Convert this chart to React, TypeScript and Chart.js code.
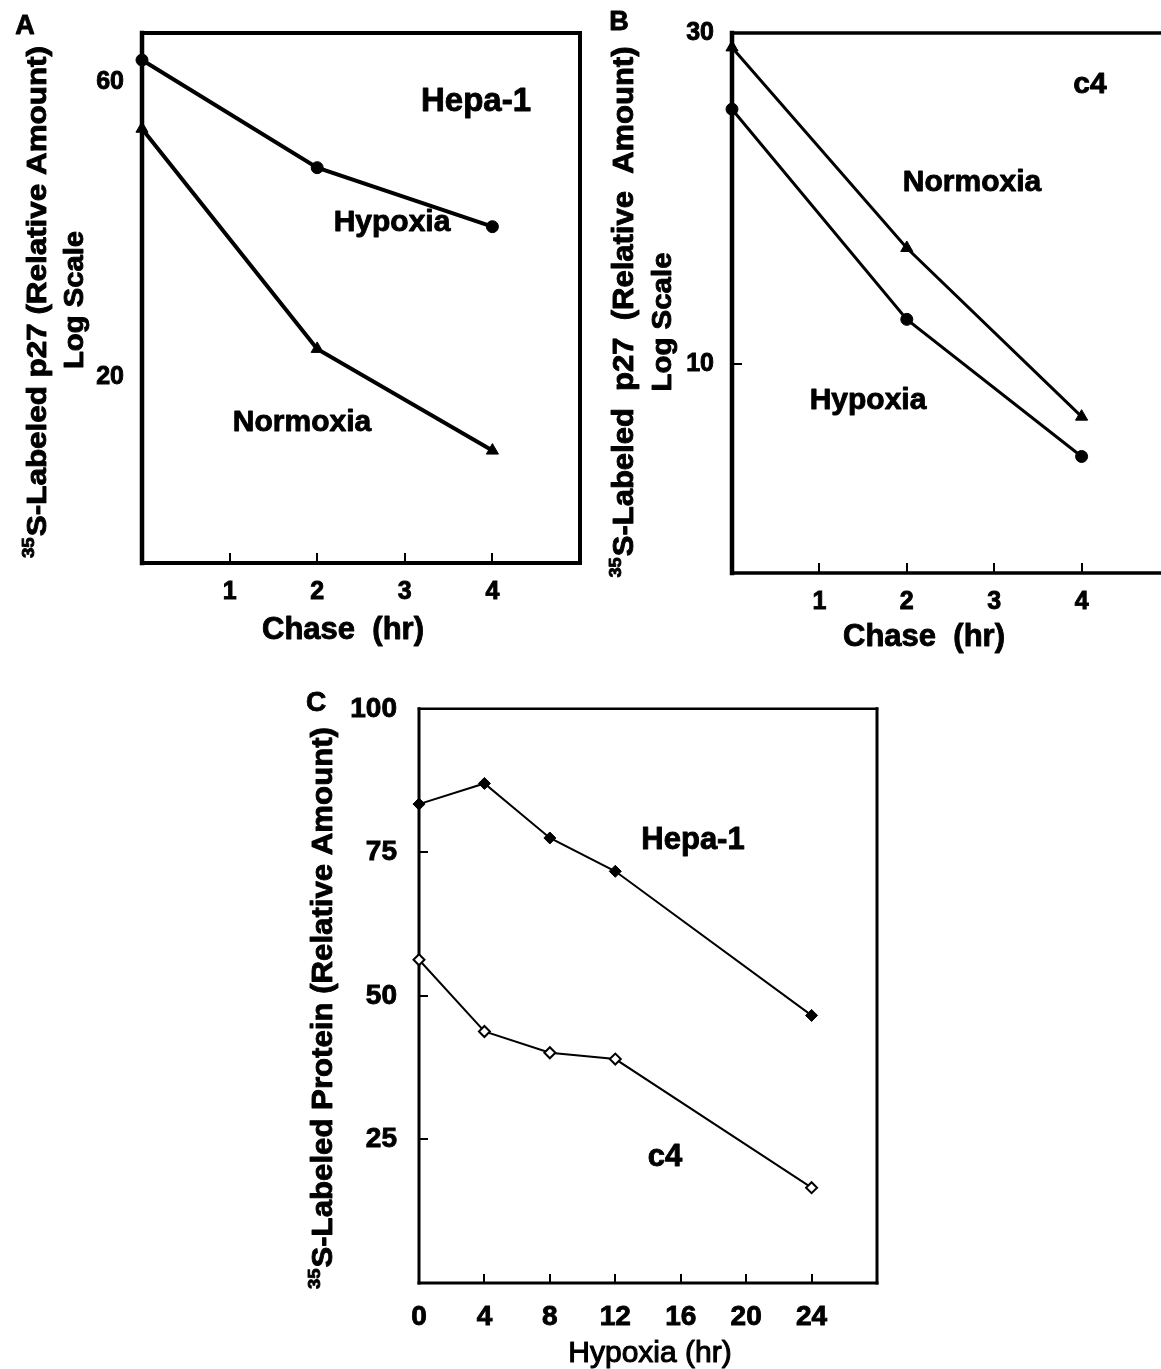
import React, { useEffect, useRef } from 'react';
import { Chart, registerables } from 'chart.js';

Chart.register(...registerables);

const FONT = '"Liberation Sans", Arial, Helvetica, sans-serif';

// ---------- Panel A: Hepa-1, log scale ----------
const chaseHours = [0, 2, 4];
const hepaHypoxia = [65.1, 43.6, 35.0];
const hepaNormoxia = [50.4, 22.2, 15.2];
const aYTicks = [20, 60];
const chaseTicks = [1, 2, 3, 4];

// ---------- Panel B: c4, log scale ----------
const c4Hypoxia = [23.3, 11.6, 7.36];
const c4Normoxia = [28.6, 14.7, 8.4];
const bYTicks = [10, 30];
const bInnerYTicks = [10];

// ---------- Panel C: total protein ----------
const hypoxiaHours = [0, 4, 8, 12, 24];
const hepaProtein = [83.4, 87.0, 77.5, 71.7, 46.6];
const c4Protein = [56.3, 43.8, 40.1, 39.0, 16.6];
const cXTicks = [0, 4, 8, 12, 16, 20, 24];
const cInnerXTicks = [4, 8, 12, 16, 20, 24];
const cYTicks = [25, 50, 75, 100];
const cInnerYTicks = [25, 50, 75];

type TextItem = {
  text: string;
  x: number;
  y: number;
  size: number;
  weight?: string;
  sup?: string;
  rotate?: boolean;
  len?: number;
  stroke?: number;
};

type PanelSpec = {
  id: string;
  cx: number; cy: number; cw: number; ch: number;
  pl: number; pt: number; pr: number; pb: number;
  xMin: number; xMax: number; xTicks: number[]; innerX: number[];
  yType: 'linear' | 'logarithmic';
  yMin: number; yMax: number; yTicks: number[]; innerY: number[];
  tickFont: number; xPad: number; yPad: number;
  border: [number, number, number, number];
  tickLen: number;
  datasets: any[];
  texts: TextItem[];
};

function drawText(ctx: CanvasRenderingContext2D, it: TextItem, ox: number, oy: number) {
  const w = it.weight || 'bold';
  const size = it.size;
  const mainFont = `${w} ${size}px ${FONT}`;
  const supSize = Math.round(size * 0.6);
  const supFont = `${w} ${supSize}px ${FONT}`;
  const sw = it.stroke === undefined ? 0.9 : it.stroke;
  ctx.save();
  ctx.fillStyle = '#000';
  ctx.strokeStyle = '#000';
  ctx.lineJoin = 'round';
  ctx.translate(it.x - ox, it.y - oy);
  if (it.rotate) ctx.rotate(-Math.PI / 2);
  ctx.font = supFont;
  const ws = it.sup ? ctx.measureText(it.sup).width + 1 : 0;
  ctx.font = mainFont;
  const wm = ctx.measureText(it.text).width;
  const total = ws + wm;
  const sx = it.len ? it.len / total : 1;
  ctx.scale(sx, 1);
  ctx.lineWidth = sw;
  ctx.textAlign = 'left';
  ctx.textBaseline = 'alphabetic';
  const base = size * 0.36;
  if (it.sup) {
    ctx.font = supFont;
    ctx.fillText(it.sup, -total / 2, base - size * 0.42);
    if (sw > 0) ctx.strokeText(it.sup, -total / 2, base - size * 0.42);
  }
  ctx.font = mainFont;
  ctx.fillText(it.text, -total / 2 + ws, base);
  if (sw > 0) ctx.strokeText(it.text, -total / 2 + ws, base);
  ctx.restore();
}

function makeDecor(spec: PanelSpec) {
  return {
    id: 'decor_' + spec.id,
    beforeDatasetsDraw(chart: any) {
      const { ctx, chartArea: a } = chart;
      const xs = chart.scales.x;
      const ys = chart.scales.y;
      ctx.save();
      ctx.strokeStyle = '#000';
      ctx.lineCap = 'butt';
      ctx.lineWidth = 2;
      for (const v of spec.innerX) {
        const px = Math.round(xs.getPixelForValue(v));
        ctx.beginPath();
        ctx.moveTo(px, a.bottom);
        ctx.lineTo(px, a.bottom - spec.tickLen);
        ctx.stroke();
      }
      for (const v of spec.innerY) {
        const py = Math.round(ys.getPixelForValue(v));
        ctx.beginPath();
        ctx.moveTo(a.left, py);
        ctx.lineTo(a.left + spec.tickLen, py);
        ctx.stroke();
      }
      const [bt, br, bb, bl] = spec.border;
      ctx.lineCap = 'square';
      const side = (lw: number, x1: number, y1: number, x2: number, y2: number) => {
        if (!lw) return;
        ctx.lineWidth = lw;
        ctx.beginPath();
        ctx.moveTo(x1, y1);
        ctx.lineTo(x2, y2);
        ctx.stroke();
      };
      side(bt, a.left, a.top, a.right, a.top);
      side(br, a.right, a.top, a.right, a.bottom);
      side(bb, a.left, a.bottom, a.right, a.bottom);
      side(bl, a.left, a.top, a.left, a.bottom);
      ctx.restore();
    },
    afterDraw(chart: any) {
      const ctx = chart.ctx;
      for (const t of spec.texts) drawText(ctx, t, spec.cx, spec.cy);
    },
  };
}

function buildConfig(spec: PanelSpec): any {
  const tickFont = { family: FONT, size: spec.tickFont, weight: 'bold' as const };
  return {
    type: 'line',
    data: { datasets: spec.datasets },
    options: {
      animation: false,
      responsive: false,
      events: [],
      layout: {
        padding: {
          left: 0,
          top: spec.pt - spec.cy,
          right: spec.cx + spec.cw - spec.pr,
          bottom: 0,
        },
      },
      plugins: { legend: { display: false }, tooltip: { enabled: false } },
      scales: {
        x: {
          type: 'linear',
          min: spec.xMin,
          max: spec.xMax,
          afterBuildTicks: (s: any) => {
            s.ticks = spec.xTicks.map((v) => ({ value: v }));
          },
          afterFit: (s: any) => {
            s.height = spec.cy + spec.ch - spec.pb;
          },
          ticks: {
            font: tickFont,
            color: '#000',
            textStrokeColor: '#000',
            textStrokeWidth: 0.9,
            padding: spec.xPad,
            autoSkip: false,
            maxRotation: 0,
            callback: (v: any) => String(v),
          },
          grid: { display: false, drawTicks: false },
          border: { display: false },
        },
        y: {
          type: spec.yType,
          min: spec.yMin,
          max: spec.yMax,
          afterBuildTicks: (s: any) => {
            s.ticks = spec.yTicks.map((v) => ({ value: v }));
          },
          afterFit: (s: any) => {
            s.width = spec.pl - spec.cx;
          },
          ticks: {
            font: tickFont,
            color: '#000',
            textStrokeColor: '#000',
            textStrokeWidth: 0.9,
            padding: spec.yPad,
            autoSkip: false,
            callback: (v: any) => String(v),
          },
          grid: { display: false, drawTicks: false },
          border: { display: false },
        },
      },
    },
    plugins: [makeDecor(spec)],
  };
}

function series(xs: number[], ys: number[], style: any) {
  return {
    data: xs.map((x, i) => ({ x, y: ys[i] })),
    borderColor: '#000',
    pointBorderColor: '#000',
    tension: 0,
    fill: false,
    clip: false,
    ...style,
  };
}

const panelA: PanelSpec = {
  id: 'A',
  cx: 0, cy: 0, cw: 600, ch: 660,
  pl: 142, pt: 19, pr: 580, pb: 563,
  xMin: 0, xMax: 5, xTicks: chaseTicks, innerX: chaseTicks,
  yType: 'logarithmic', yMin: 10, yMax: 72, yTicks: aYTicks, innerY: [],
  tickFont: 25, xPad: 14, yPad: 18,
  border: [4, 4, 4, 4.5],
  tickLen: 10,
  datasets: [
    series(chaseHours, hepaHypoxia, {
      borderWidth: 4, pointStyle: 'circle', pointRadius: 6, pointBackgroundColor: '#000', pointBorderWidth: 1,
    }),
    series(chaseHours, hepaNormoxia, {
      borderWidth: 4, pointStyle: 'triangle', pointRadius: 7, pointBackgroundColor: '#000', pointBorderWidth: 1,
    }),
  ],
  texts: [
    { text: 'A', x: 25, y: 24, size: 27 },
    { text: 'Hepa-1', x: 476, y: 99, size: 33 },
    { text: 'Hypoxia', x: 392, y: 220, size: 30 },
    { text: 'Normoxia', x: 302, y: 420, size: 30 },
    { text: 'Chase  (hr)', x: 343, y: 628, size: 31 },
    { text: 'S-Labeled p27 (Relative Amount)', sup: '35', x: 36, y: 302, size: 27, rotate: true, len: 512 },
    { text: 'Log Scale', x: 73, y: 300, size: 27, rotate: true, len: 138 },
  ],
};

const panelB: PanelSpec = {
  id: 'B',
  cx: 600, cy: 0, cw: 580, ch: 660,
  pl: 732, pt: 27, pr: 1169, pb: 573,
  xMin: 0, xMax: 5, xTicks: chaseTicks, innerX: chaseTicks,
  yType: 'logarithmic', yMin: 5, yMax: 30, yTicks: bYTicks, innerY: bInnerYTicks,
  tickFont: 25, xPad: 14, yPad: 18,
  border: [3.5, 3.5, 3.5, 4.5],
  tickLen: 10,
  datasets: [
    series(chaseHours, c4Hypoxia, {
      borderWidth: 3, pointStyle: 'circle', pointRadius: 6, pointBackgroundColor: '#000', pointBorderWidth: 1,
    }),
    series(chaseHours, c4Normoxia, {
      borderWidth: 3, pointStyle: 'triangle', pointRadius: 7, pointBackgroundColor: '#000', pointBorderWidth: 1,
    }),
  ],
  texts: [
    { text: 'B', x: 619, y: 20, size: 27 },
    { text: 'c4', x: 1090, y: 82, size: 30 },
    { text: 'Normoxia', x: 972, y: 180, size: 30 },
    { text: 'Hypoxia', x: 868, y: 398, size: 30 },
    { text: 'Chase  (hr)', x: 924, y: 635, size: 31 },
    { text: 'S-Labeled  p27  (Relative  Amount)', sup: '35', x: 623, y: 312, size: 29, rotate: true, len: 531 },
    { text: 'Log Scale', x: 661, y: 322, size: 28, rotate: true, len: 139 },
  ],
};

const panelC: PanelSpec = {
  id: 'C',
  cx: 280, cy: 670, cw: 620, ch: 699,
  pl: 419, pt: 697, pr: 877, pb: 1283,
  xMin: 0, xMax: 28, xTicks: cXTicks, innerX: cInnerXTicks,
  yType: 'linear', yMin: 0, yMax: 100, yTicks: cYTicks, innerY: cInnerYTicks,
  tickFont: 28, xPad: 17, yPad: 22,
  border: [2.5, 3, 3, 3],
  tickLen: 9,
  datasets: [
    series(hypoxiaHours, hepaProtein, {
      borderWidth: 2, pointStyle: 'rectRot', pointRadius: 6, pointBackgroundColor: '#000', pointBorderWidth: 1,
    }),
    series(hypoxiaHours, c4Protein, {
      borderWidth: 2, pointStyle: 'rectRot', pointRadius: 5.5, pointBackgroundColor: '#fff', pointBorderWidth: 2,
    }),
  ],
  texts: [
    { text: 'C', x: 316, y: 701, size: 28 },
    { text: 'Hepa-1', x: 693, y: 838, size: 31 },
    { text: 'c4', x: 665, y: 1155, size: 31 },
    { text: 'Hypoxia (hr)', x: 650, y: 1351, size: 30, weight: 'normal', stroke: 1.1 },
    { text: 'S-Labeled Protein (Relative Amount)', sup: '35', x: 322, y: 1008, size: 29, rotate: true, len: 562 },
  ],
};

function Panel({ spec }: { spec: PanelSpec }) {
  const ref = useRef<HTMLCanvasElement>(null);
  useEffect(() => {
    if (!ref.current) return;
    const chart = new Chart(ref.current, buildConfig(spec));
    return () => chart.destroy();
  }, [spec]);
  return (
    <canvas
      ref={ref}
      width={spec.cw}
      height={spec.ch}
      style={{ position: 'absolute', left: spec.cx, top: spec.cy, width: spec.cw, height: spec.ch }}
    />
  );
}

export default function App() {
  return (
    <div
      style={{
        position: 'absolute',
        left: 0,
        top: 0,
        width: 1161,
        height: 1369,
        overflow: 'hidden',
        background: '#fff',
      }}
    >
      <Panel spec={panelA} />
      <Panel spec={panelB} />
      <Panel spec={panelC} />
    </div>
  );
}
